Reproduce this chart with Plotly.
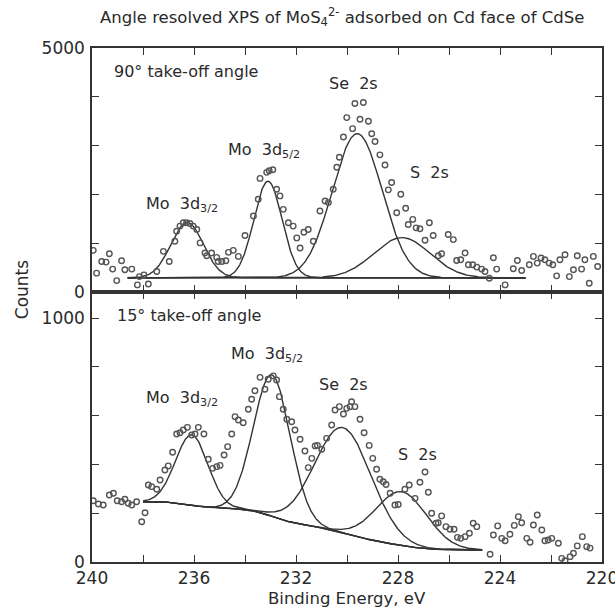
import numpy as np
import plotly.graph_objects as go

# ---------------- data ----------------
# Top panel: 90 deg take-off angle, measured points
top_energy = [239.95, 239.82, 239.62, 239.45, 239.32, 239.19, 239.03, 238.84, 238.71, 238.44,
              238.22, 238.14, 237.96, 237.79, 237.46, 237.20, 236.97, 236.75, 236.68, 236.55,
              236.42, 236.29, 236.16, 236.03, 235.89, 235.76, 235.57, 235.50, 235.31, 235.11,
              235.05, 234.91, 234.75, 234.65, 234.46, 234.26, 234.00, 233.67, 233.48, 233.41,
              233.15, 233.05, 232.91, 232.76, 232.63, 232.50, 232.30, 232.11, 231.97, 231.84,
              231.69, 231.52, 231.32, 231.06, 230.86, 230.73, 230.54, 230.40, 230.30, 230.14,
              230.01, 229.78, 229.69, 229.49, 229.36, 229.16, 229.03, 228.90, 228.71, 228.51,
              228.38, 228.25, 228.05, 227.89, 227.70, 227.60, 227.42, 227.29, 227.14, 226.94,
              226.77, 226.62, 226.42, 226.29, 226.03, 225.83, 225.70, 225.54, 225.37, 225.24,
              225.07, 224.91, 224.72, 224.59, 224.42, 224.26, 224.13, 223.80, 223.48, 223.32,
              223.15, 222.85, 222.69, 222.54, 222.39, 222.24, 222.07, 221.93, 221.78, 221.65,
              221.45, 221.28, 221.12, 220.97, 220.80, 220.67, 220.50, 220.34, 220.17]
top_counts = [853, 386, 626, 613, 785, 469, 234, 640, 455, 469,
              145, 316, 351, 165, 420, 833, 626, 1040, 1246, 1350,
              1419, 1419, 1405, 1350, 1281, 1006, 799, 744, 799, 709,
              626, 626, 640, 812, 853, 729, 1157, 1556, 1901, 2328,
              2452, 2486, 2506, 2107, 1969, 1694, 1419, 1350, 1109, 903,
              1225, 1281, 1040, 1659, 1866, 1832, 2107, 2555, 2762, 3175,
              3574, 3347, 3863, 3540, 3884, 3498, 3244, 3085, 2810, 2603,
              2093, 2245, 1625, 2004, 1715, 1384, 1488, 1315, 1295, 1061,
              1419, 1157, 744, 785, 1178, 1074, 647, 661, 799, 558,
              558, 510, 469, 420, 282, 702, 469, 145, 475, 647,
              441, 558, 729, 592, 696, 661, 592, 558, 331, 661,
              764, 316, 455, 744, 469, 661, 179, 729, 523]

# Bottom panel: 15 deg take-off angle, measured points
bot_energy = [239.95, 239.75, 239.56, 239.32, 239.16, 239.01, 238.84, 238.71, 238.58, 238.44,
              238.25, 238.05, 237.92, 237.79, 237.66, 237.46, 237.33, 237.14, 237.01, 236.84,
              236.68, 236.55, 236.42, 236.26, 236.09, 235.96, 235.83, 235.61, 235.44, 235.27,
              235.11, 234.98, 234.82, 234.68, 234.52, 234.39, 234.26, 234.07, 233.87, 233.74,
              233.61, 233.41, 233.22, 233.09, 232.89, 232.76, 232.65, 232.50, 232.36, 232.17,
              232.04, 231.84, 231.65, 231.52, 231.38, 231.25, 231.16, 230.99, 230.80, 230.60,
              230.47, 230.30, 230.14, 230.01, 229.88, 229.82, 229.69, 229.49, 229.33, 229.13,
              228.99, 228.84, 228.71, 228.58, 228.47, 228.31, 228.12, 227.99, 227.73, 227.56,
              227.33, 227.14, 226.94, 226.81, 226.68, 226.51, 226.42, 226.29, 226.12, 225.96,
              225.80, 225.67, 225.54, 225.37, 225.20, 225.05, 224.91, 224.39, 224.26, 224.09,
              223.93, 223.80, 223.61, 223.44, 223.28, 223.15, 222.95, 222.82, 222.69, 222.54,
              222.36, 222.24, 222.11, 221.97, 221.71, 221.58, 221.45, 221.25, 221.12, 220.97,
              220.77, 220.60, 220.47]
bot_counts = [251, 238, 234, 275, 282, 251, 247, 257, 241, 234,
              247, 165, 202, 316, 309, 298, 336, 377, 394, 450,
              525, 530, 541, 552, 521, 525, 552, 525, 421, 384,
              391, 396, 439, 473, 525, 596, 582, 571, 626, 667,
              702, 757, 708, 749, 763, 746, 678, 626, 585, 575,
              541, 503, 455, 387, 425, 476, 478, 462, 507, 562,
              623, 637, 607, 630, 637, 657, 637, 585, 530, 478,
              425, 380, 339, 329, 318, 282, 234, 236, 298, 316,
              261, 327, 369, 286, 200, 159, 161, 189, 145, 134,
              134, 101, 97, 104, 118, 159, 145, 32, 111, 148,
              97, 87, 114, 150, 186, 161, 97, 81, 152, 193,
              131, 87, 90, 97, 77, 15, 5, 22, 36, 66,
              104, 63, 57]

# Fitted components (centre eV, height above background, FWHM eV)
peak_names = ["Mo 3d3/2", "Mo 3d5/2", "Se 2s", "S 2s"]
top_centers = [236.27, 233.10, 229.60, 227.85]
top_heights = [1135, 1980, 2955, 825]
top_fwhm = [1.50, 1.30, 2.30, 2.60]
top_background = 290
top_fit_range = [238.6, 223.0]

bot_centers = [236.08, 232.94, 230.15, 227.85]
bot_heights = [288, 580, 432, 221]
bot_fwhm = [1.50, 1.70, 2.60, 2.35]
bot_background_ends = [247, 49]   # high-BE end, low-BE end (Shirley type)
bot_fit_range = [238.0, 224.7]

# ---------------- styling ----------------
INK = "#333333"
TXT = "#2a2a2a"
FONT = "DejaVu Sans"

def gauss(E, c, h, w):
    s = w / 2.3548
    return h * np.exp(-0.5 * ((E - c) / s) ** 2)

fig = go.Figure()
mk = dict(symbol="circle-open", size=5.5, color="#555555", line=dict(width=1.4))

# ----- top panel -----
Et = np.linspace(top_fit_range[0], top_fit_range[1], 600)
fig.add_trace(go.Scatter(x=Et, y=np.full_like(Et, top_background), mode="lines",
                         line=dict(color=INK, width=1.4), xaxis="x2", yaxis="y2",
                         hoverinfo="skip"))
for c, h, w in zip(top_centers, top_heights, top_fwhm):
    fig.add_trace(go.Scatter(x=Et, y=top_background + gauss(Et, c, h, w), mode="lines",
                             line=dict(color=INK, width=1.4), xaxis="x2", yaxis="y2",
                             hoverinfo="skip"))
fig.add_trace(go.Scatter(x=top_energy, y=top_counts, mode="markers", marker=mk,
                         xaxis="x2", yaxis="y2"))

# ----- bottom panel (Shirley-type background) -----
Eb = np.linspace(bot_fit_range[1], bot_fit_range[0], 800)  # ascending energy
peaks_sum = sum(gauss(Eb, c, h, w) for c, h, w in zip(bot_centers, bot_heights, bot_fwhm))
cum = np.cumsum(peaks_sum)
frac = cum / cum[-1]
bg = bot_background_ends[1] + (bot_background_ends[0] - bot_background_ends[1]) * frac
fig.add_trace(go.Scatter(x=Eb, y=bg, mode="lines", line=dict(color=INK, width=1.4),
                         xaxis="x", yaxis="y", hoverinfo="skip"))
for c, h, w in zip(bot_centers, bot_heights, bot_fwhm):
    fig.add_trace(go.Scatter(x=Eb, y=bg + gauss(Eb, c, h, w), mode="lines",
                             line=dict(color=INK, width=1.4), xaxis="x", yaxis="y",
                             hoverinfo="skip"))
fig.add_trace(go.Scatter(x=bot_energy, y=bot_counts, mode="markers", marker=mk,
                         xaxis="x", yaxis="y"))

# ----- axes -----
xt = list(range(240, 219, -2))
xtt = [str(v) if (240 - v) % 4 == 0 else "" for v in xt]
axis_common = dict(showline=True, linecolor=INK, linewidth=1.5, mirror="ticks",
                   ticks="inside", ticklen=7, tickwidth=1.3, tickcolor=INK,
                   showgrid=False, zeroline=False, ticklabeloverflow="allow",
                   automargin=False,
                   tickfont=dict(family=FONT, size=17, color=TXT))
split = (562 - 292) / 514

fig.update_layout(
    width=615, height=607,
    margin=dict(l=92, r=13, t=48, b=45),
    paper_bgcolor="white", plot_bgcolor="white",
    showlegend=False,
    xaxis=dict(domain=[0, 1], anchor="y", range=[240, 220], tickvals=xt, ticktext=xtt,
               ticklabelstandoff=0, **axis_common),
    xaxis2=dict(domain=[0, 1], anchor="y2", range=[240, 220], matches="x", tickvals=xt,
                showticklabels=False, **axis_common),
    yaxis=dict(domain=[0, split], anchor="x", range=[0, 1107],
               tickvals=[0, 200, 400, 600, 800, 1000],
               ticktext=["0", "", "", "", "", "1000"], ticklabelstandoff=2, **axis_common),
    yaxis2=dict(domain=[split, 1], anchor="x2", range=[0, 5000],
                tickvals=[0, 1000, 2000, 3000, 4000, 5000],
                ticktext=["0", "", "", "", "", "5000"], ticklabelstandoff=2, **axis_common),
)

lab = dict(family=FONT, size=16, color=TXT)
ctr = dict(xanchor="center", yanchor="middle", showarrow=False)
annots = [
    dict(text="Angle resolved XPS of MoS<sub>4</sub><sup>2-</sup> adsorbed on Cd face of CdSe",
         xref="paper", yref="paper", x=0.49, y=1.060,
         font=dict(family=FONT, size=16.5, color=TXT), **ctr),
    dict(text="Counts", xref="paper", yref="paper", x=-0.137, y=0.529, textangle=-90,
         font=dict(family=FONT, size=17, color=TXT), **ctr),
    dict(text="Binding Energy, eV", xref="paper", yref="paper", x=0.5, y=-0.071,
         font=dict(family=FONT, size=16.5, color=TXT), **ctr),
    # top panel labels
    dict(text="90° take-off angle", x=239.22, y=4525, xref="x2", yref="y2",
         xanchor="left", yanchor="middle", showarrow=False, font=lab),
    dict(text="Mo  3d<sub>3/2</sub>", x=236.47, y=1800, xref="x2", yref="y2", font=lab, **ctr),
    dict(text="Mo  3d<sub>5/2</sub>", x=233.25, y=2892, xref="x2", yref="y2", font=lab, **ctr),
    dict(text="Se  2s", x=229.76, y=4277, xref="x2", yref="y2", font=lab, **ctr),
    dict(text="S  2s", x=226.78, y=2459, xref="x2", yref="y2", font=lab, **ctr),
    # bottom panel labels
    dict(text="15° take-off angle", x=239.10, y=1009, xref="x", yref="y",
         xanchor="left", yanchor="middle", showarrow=False, font=lab),
    dict(text="Mo  3d<sub>3/2</sub>", x=236.47, y=672, xref="x", yref="y", font=lab, **ctr),
    dict(text="Mo  3d<sub>5/2</sub>", x=233.14, y=849, xref="x", yref="y", font=lab, **ctr),
    dict(text="Se  2s", x=230.12, y=726, xref="x", yref="y", font=lab, **ctr),
    dict(text="S  2s", x=227.25, y=439, xref="x", yref="y", font=lab, **ctr),
]
fig.update_layout(annotations=annots)

# remove the default 8px page margin so the 615x607 figure fills the window exactly
fig.write_html("out.html", config={"displayModeBar": False},
               post_script="document.body.style.margin='0px';"
                           "document.body.style.overflow='hidden';")
